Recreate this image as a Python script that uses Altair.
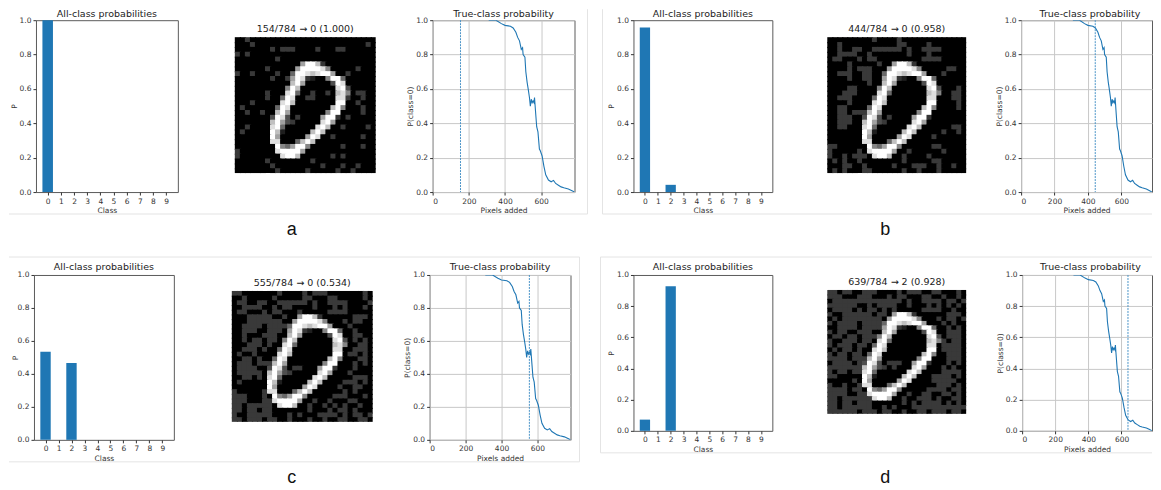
import altair as alt
import pandas as pd

CLASSES = [0, 1, 2, 3, 4, 5, 6, 7, 8, 9]
PROB_A = [1.000, 0, 0, 0, 0, 0, 0, 0, 0, 0]
PROB_B = [0.958, 0, 0.042, 0, 0, 0, 0, 0, 0, 0]
PROB_C = [0.534, 0, 0.466, 0, 0, 0, 0, 0, 0, 0]
PROB_D = [0.072, 0, 0.928, 0, 0, 0, 0, 0, 0, 0]

CURVE_X = [310, 350, 380, 400, 430, 445, 460, 470, 480, 490, 497, 500, 510, 515, 522, 528, 535, 540, 545, 550, 555, 560, 563,
           570, 575, 582, 590, 595, 605, 615, 625, 640, 655, 668, 680, 695, 710, 725, 750, 770, 784]
CURVE_Y = [1.0, 1.0, 0.98, 0.97, 0.965, 0.955, 0.93, 0.90, 0.88, 0.83, 0.84, 0.80, 0.785, 0.70, 0.64, 0.60, 0.55, 0.50, 0.54, 0.52, 0.53, 0.52, 0.55,
           0.45, 0.38, 0.35, 0.25, 0.24, 0.21, 0.15, 0.10, 0.07, 0.06, 0.068, 0.05, 0.04, 0.03, 0.025, 0.018, 0.008, 0.0]

# digit strokes: row -> (first column, brightness 0-9 per cell)
DIGIT = {
    5: (13, "69972"), 6: (12, "6999985"), 7: (11, "499878996"), 8: (11, "69821005994"),
    9: (11, "79600000398"), 10: (10, "5970000000893"), 11: (10, "8940000000785"),
    12: (9, "4980000000088"), 13: (9, "8970000000099"), 14: (8, "49800000000795"),
    15: (8, "7960000000599"), 16: (7, "39830000006992"), 17: (7, "7963000000896"),
    18: (7, "894000000897"), 19: (7, "97100000797"), 20: (7, "9600000698"), 21: (7, "880004797"),
    22: (8, "9546995"), 23: (8, "899996"), 24: (9, "8997"),
}

# grey pixels added, row -> columns
NOISE_A = {0: [2], 1: [3, 26], 2: [7, 9, 10, 11, 16, 20, 21], 3: [0, 2], 4: [8], 6: [6, 24], 7: [0, 3, 8, 22],
           8: [7, 10], 11: [6, 15, 18, 24, 25], 12: [6, 14, 15, 22, 25], 13: [3, 24], 14: [1, 25], 15: [2, 5, 25],
           16: [12, 22], 17: [11], 18: [2, 21, 26], 19: [1], 20: [19, 25], 22: [21, 25], 23: [0], 24: [0, 19, 21],
           25: [6, 15], 26: [7, 17, 21, 24], 27: [8, 14, 20, 23]}
NOISE_B = {0: [9, 14], 1: [2, 14, 15, 20], 2: [2, 5, 6, 9, 10, 11, 12, 13, 14, 16, 19, 20, 21, 22], 3: [2, 3, 4, 5, 8, 16, 20],
           4: [1, 2, 6, 8, 9, 19, 20, 21, 22], 5: [4, 10], 6: [4, 6, 7, 8, 24, 25], 7: [2, 3, 4, 7, 8, 23], 8: [4, 7, 8],
           9: [8], 10: [4, 5, 26], 11: [3, 4, 5, 25, 26], 12: [2, 3, 4, 25, 26], 13: [4, 26], 14: [2, 3, 26],
           15: [2, 3, 5, 6, 7], 16: [2, 3, 4, 12], 17: [2, 3, 4, 11], 18: [2, 3, 25, 26], 19: [23, 26], 20: [21], 21: [],
           22: [0, 1, 21, 22], 23: [0, 6, 16, 23], 24: [0, 3, 5, 6, 7, 15, 20], 25: [1, 3, 6, 15, 21, 22],
           26: [3, 4, 7, 13, 17, 18, 19, 22, 25], 27: [1, 3, 7, 8, 15, 18, 22]}
EXTRA_C = {0: [0, 1, 16, 17, 18, 26], 1: [8, 19, 26], 2: [1, 27], 3: [10, 11, 22, 26], 4: [13], 5: [3, 5, 6, 7, 24, 25, 26],
           6: [3, 5, 9, 22], 7: [5, 9, 10], 8: [2, 3, 9, 24], 9: [2, 6, 7, 24, 25], 10: [2, 7, 8, 24], 11: [7, 25],
           12: [6, 24], 13: [1, 23, 24], 14: [5, 25], 15: [1, 24, 26], 16: [1, 13, 24], 17: [1, 5, 23],
           18: [5, 24], 19: [1, 22, 24], 20: [7, 24, 25], 21: [0, 6, 22, 24], 22: [2, 6, 20, 26], 23: [1, 2, 7, 19, 24],
           24: [1, 4, 18, 22, 25], 25: [0, 4, 7, 19, 24], 26: [0, 5, 6, 11, 20, 24, 27], 27: [0, 4, 5, 11, 21, 25, 26]}
EXTRA_D = {0: [3, 4, 7, 8, 21, 22], 1: [0, 1, 6, 7, 12, 23], 2: [3, 4, 7, 8, 24, 25], 3: [0, 1, 12, 13, 24], 4: [3, 4, 11, 25],
           5: [0, 8, 11], 6: [1, 10, 27], 7: [0, 11, 25], 8: [5, 10, 26], 9: [0, 3, 26], 10: [1, 9, 25], 11: [0, 8, 23],
           12: [0, 7, 23], 13: [3, 6, 25], 14: [0, 6, 24], 15: [0, 25], 16: [6, 14, 26], 17: [0, 6, 13, 25], 18: [0, 6, 23],
           19: [0, 21, 26], 20: [5, 22, 23], 21: [3, 23, 26], 22: [3, 5, 23, 25], 23: [3, 20, 26], 24: [8, 19, 26],
           25: [8, 17, 20, 26], 26: [1, 8, 21, 23, 26], 27: [2, 9, 12, 19, 23]}

FONT = "DejaVu Sans"
BLUE = "#1f77b4"
SPINE = "#5a5a5a"
TEXT = "#333333"
FRAME = "#e4e4e4"
dummy = pd.DataFrame({"a": [0]})


def rule(x1, y1, x2, y2):
    return alt.Chart(dummy).mark_rule(color=FRAME, strokeWidth=1).encode(
        x=alt.value(x1), x2=alt.value(x2), y=alt.value(y1), y2=alt.value(y2))


def frame_layers(ox, oy, segs):
    return [rule(a - ox, b - oy, c - ox, d - oy) for a, b, c, d in segs]


def spacer(w):
    return alt.Chart(dummy).mark_text(text="", opacity=0).encode(x=alt.value(1), y=alt.value(1)).properties(
        width=w, height=1, view=alt.ViewConfig(stroke=None))


def head(text, x, y, xs, ys, xa=None, ya=None):
    return alt.Chart(pd.DataFrame({"x": [x], "y": [y], "t": [text]})).mark_text(
        font=FONT, fontSize=9.5, color="#222222", baseline="alphabetic", align="center").encode(
        x=alt.X("x:Q", scale=xs, axis=xa), y=alt.Y("y:Q", scale=ys, axis=ya), text="t:N")


def x_axis(t, vals, grid=False):
    return alt.Axis(title=t, values=vals, grid=grid, gridColor="#c8c8c8", domain=False, tickSize=3, tickColor=TEXT, labelColor=TEXT,
                    labelFontSize=7.5, labelFont=FONT, titleFont=FONT, titleFontSize=7.5, titleFontWeight="normal",
                    titleColor=TEXT, labelPadding=2, titlePadding=2, labelAngle=0, labelOverlap=False, format="d")


def y_axis(t, grid=False, pad=1):
    return alt.Axis(title=t, values=[0, 0.2, 0.4, 0.6, 0.8, 1.0], grid=grid, gridColor="#c8c8c8", domain=False, tickSize=3,
                    tickColor=TEXT, labelColor=TEXT, labelFontSize=7.5, labelFont=FONT, titleFont=FONT, titleFontSize=7.5,
                    titleFontWeight="normal", titleColor=TEXT, labelPadding=2, titlePadding=pad, format=".1f")


def bar_panel(probs, w, h, frames, pad=1, off=4.5):
    df = pd.DataFrame({"c": CLASSES, "p": probs})
    df["lo"] = df["c"] - 0.4
    df["hi"] = df["c"] + 0.4
    xs = alt.Scale(domain=[-0.89, 9.89], nice=False, zero=False)
    ys = alt.Scale(domain=[0, 1], nice=False)
    xa, ya = x_axis("Class", CLASSES), y_axis("P", pad=pad)
    bars = alt.Chart(df).mark_rect(color=BLUE).encode(
        x=alt.X("lo:Q", scale=xs, axis=xa),
        x2="hi:Q",
        y=alt.Y("p:Q", scale=ys, axis=ya),
        y2=alt.datum(0),
    )
    return alt.layer(bars, head("All-class probabilities", 4.5, 1 + off / h, xs, ys, xa, ya), *frames).properties(
        width=w, height=h, view=alt.ViewConfig(stroke=SPINE, strokeWidth=1))


def image_panel(noise, caption, letter, w, h, top, img_h, letter_xy):
    cell = img_h / 28
    rows = []
    for r in range(28):
        start, s = DIGIT.get(r, (0, ""))
        for c in range(28):
            v = 0.24 if c in noise.get(r, []) else 0.0
            if start <= c < start + len(s):
                v = max(v, int(s[c - start]) / 9)
            rows.append({"c": c, "c2": min(c + 1.25, 28), "r": r, "r2": min(r + 1.25, 28), "v": v})
    xs = alt.Scale(domain=[0, 28], nice=False, zero=False)
    ys = alt.Scale(domain=[(h - top) / cell, -top / cell], nice=False, zero=False)
    cells = alt.Chart(pd.DataFrame(rows)).mark_rect(strokeWidth=0).encode(
        x=alt.X("c:Q", scale=xs, axis=None), x2="c2:Q",
        y=alt.Y("r:Q", scale=ys, axis=None), y2="r2:Q",
        color=alt.Color("v:Q", scale=alt.Scale(domain=[0, 1], range=["#000000", "#ffffff"]), legend=None),
    )
    cap = head(caption, 14, -5 / cell, xs, ys)
    let = alt.Chart(pd.DataFrame({"t": [letter]})).mark_text(
        font="Liberation Sans", fontSize=18, color="#111111", baseline="middle", align="center").encode(
        x=alt.value(letter_xy[0]), y=alt.value(letter_xy[1]), text="t:N")
    return alt.layer(cells, cap, let).properties(width=w, height=h, view=alt.ViewConfig(stroke=None))


def curve_panel(mark, w, h, title_x=392, off=4.5):
    df = pd.DataFrame({"x": CURVE_X, "y": CURVE_Y})
    xs = alt.Scale(domain=[0, 784], nice=False, zero=False)
    ys = alt.Scale(domain=[0, 1], nice=False)
    xa, ya = x_axis("Pixels added", [0, 200, 400, 600], True), y_axis("P(class=0)", True)
    line = alt.Chart(df).mark_line(color=BLUE, strokeWidth=1.1, clip=True).encode(
        x=alt.X("x:Q", scale=xs, axis=xa),
        y=alt.Y("y:Q", scale=ys, axis=ya),
    )
    vline = alt.Chart(pd.DataFrame({"x": [mark]})).mark_rule(color="#4a94c8", strokeWidth=1, strokeDash=[2, 1]).encode(
        x=alt.X("x:Q", scale=xs, axis=xa))
    return alt.layer(line, vline, head("True-class probability", title_x, 1 + off / h, xs, ys, xa, ya)).properties(
        width=w, height=h, view=alt.ViewConfig(stroke=SPINE, strokeWidth=1))


TOP1, H1 = 19, 172
TOP2 = 274

a_frames = frame_layers(35, TOP1, [(8, 213, 587, 213), (587, 8, 587, 213)])
b_frames = frame_layers(633, TOP1, [(602, 8, 602, 213), (602, 213, 1152, 213)])
c_frames = frame_layers(33, TOP2, [(8, 256, 579, 256), (8, 461, 579, 461), (579, 256, 579, 461)])
d_frames = frame_layers(633, TOP2, [(600, 256, 600, 452), (600, 256, 1152, 256), (600, 452, 1152, 452)])


def merge(*ds):
    return {r: sum((d.get(r, []) for d in ds), []) for r in range(28)}


row1 = alt.hconcat(
    spacer(27),
    bar_panel(PROB_A, 142, H1, a_frames, off=3), spacer(57),
    image_panel(NOISE_A, "154/784 → 0 (1.000)", "a", 141, H1, 17, 136, (57, 210)), spacer(57),
    curve_panel(154, 142, H1, off=3), spacer(59),
    bar_panel(PROB_B, 139, H1, b_frames, off=3), spacer(55),
    image_panel(NOISE_B, "444/784 → 0 (0.958)", "b", 139, H1, 17, 136, (58, 210)), spacer(55),
    curve_panel(444, 131, H1, 412, off=3),
    spacing=0, bounds="flush",
)
row2 = alt.hconcat(
    spacer(25),
    bar_panel(PROB_C, 140, 165, c_frames, pad=-2), spacer(58),
    image_panel(merge(NOISE_B, EXTRA_C), "555/784 → 0 (0.534)", "c", 141, 165, 16, 131, (60, 203)), spacer(57),
    curve_panel(555, 141, 165), spacer(63),
    bar_panel(PROB_D, 139, 156, d_frames), spacer(55),
    image_panel(merge(NOISE_B, EXTRA_C, EXTRA_D), "639/784 → 2 (0.928)", "d", 139, 156, 15, 124, (58, 203)), spacer(56),
    curve_panel(639, 130, 156, 412),
    spacing=0, bounds="flush",
)
chart = alt.vconcat(row1, row2, spacing=TOP2 - TOP1, bounds="flush").properties(
    padding=0).configure_view(stroke=None)
chart.save("out.html", embed_options={"renderer": "svg", "actions": False})
